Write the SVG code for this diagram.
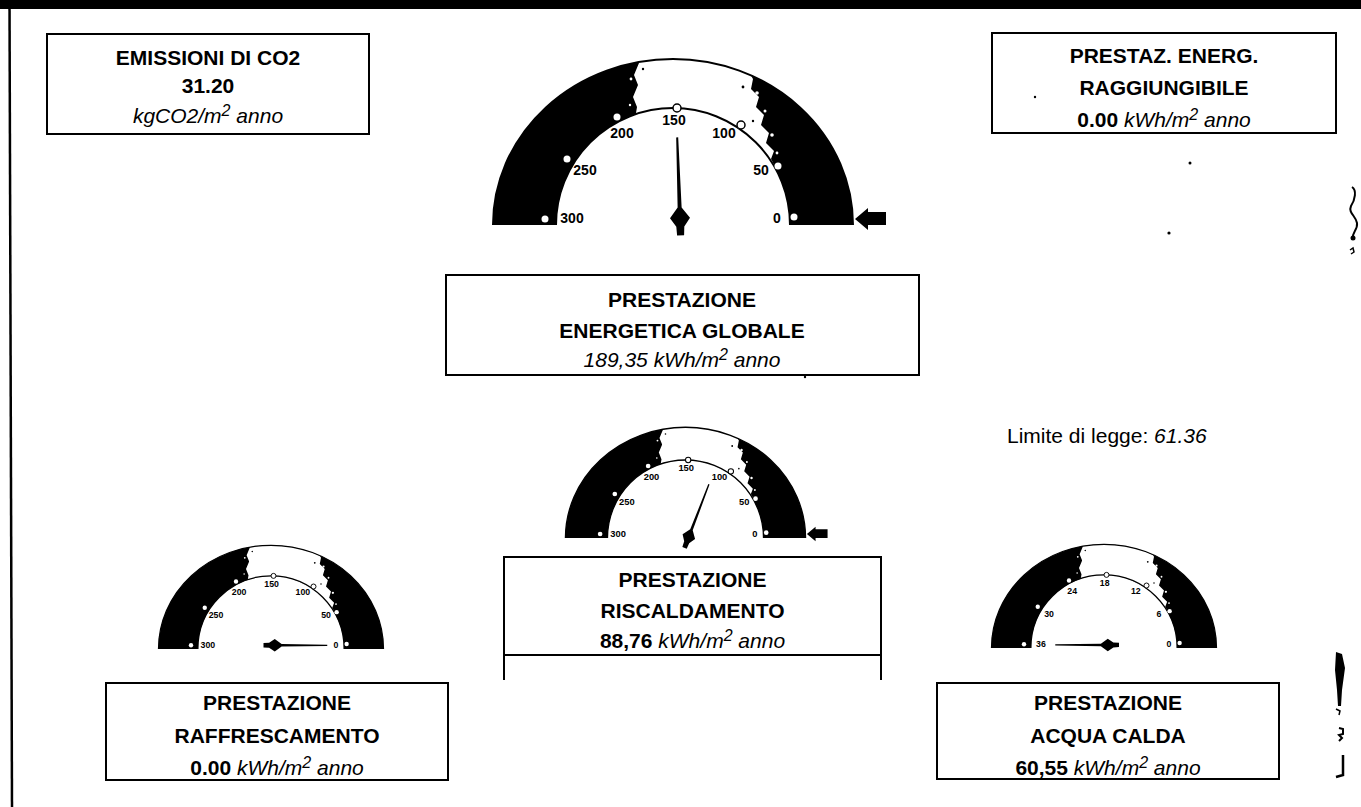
<svg xmlns="http://www.w3.org/2000/svg" width="1361" height="807" viewBox="0 0 1361 807">
<style>
.box{fill:none;stroke:#000;stroke-width:2}
.t{font-family:"Liberation Sans",Arial,sans-serif;font-size:21px;text-anchor:middle;fill:#000}
.b{font-weight:bold}
.i{font-style:italic}
.gl{font-family:"Liberation Sans",Arial,sans-serif;font-weight:bold;font-size:14px;text-anchor:middle;fill:#000}
.arc{fill:none;stroke:#000;stroke-width:2}
.wd{fill:#fff}
.od{fill:#fff;stroke:#000;stroke-width:1.5}
</style>
<defs>
  <clipPath id="ringClip"><path d="M-180,0 A180,166 0 0 1 180,0 L117,0 A117,117 0 0 0 -117,0 Z"/></clipPath>
  <g id="ring">
    <path d="M-180,0 A180,166 0 0 1 180,0 L117,0 A117,117 0 0 0 -117,0 Z" fill="#000"/>
    <polygon points="-36,-200 -38,-172 -34,-162 -39,-150 -35,-140 -40,-128 -36,-118 -38,-106 -34,-95 -36,-60 104,-55 98,-66 101,-74 93,-82 96,-92 88,-100 91,-110 83,-118 86,-128 78,-136 80,-146 72,-160 66,-200" fill="#fff" clip-path="url(#ringClip)"/>
    <path class="arc" d="M-180,0 A180,166 0 0 1 180,0"/>
    <path class="arc" d="M-117,0 A117,117 0 0 1 117,0"/>
    <g clip-path="url(#ringClip)">
      <circle class="wd" cx="84" cy="-132" r="1.8"/>
      <circle class="wd" cx="92" cy="-114" r="1.5"/>
      <circle class="wd" cx="99" cy="-90" r="1.8"/>
      <circle class="wd" cx="104" cy="-72" r="1.4"/>
      <circle cx="70" cy="-138" r="1.4"/>
      <circle cx="80" cy="-104" r="1.2"/>
      <circle class="wd" cx="-42" cy="-146" r="1.4"/>
      <circle class="wd" cx="-43" cy="-120" r="1.2"/>
      <circle cx="-30" cy="-156" r="1.2"/>
    </g>
    <circle class="wd" cx="-128" cy="-6" r="3.5"/>
    <circle class="wd" cx="-106" cy="-66" r="3.5"/>
    <circle class="wd" cx="-56" cy="-108" r="3.5"/>
    <circle class="od" cx="4" cy="-117" r="4"/>
    <circle class="od" cx="68" cy="-100" r="4"/>
    <circle class="wd" cx="105" cy="-59" r="3.5"/>
    <circle class="wd" cx="121" cy="-8" r="3.5"/>
  </g>
  <path id="needle" d="M-2,-11 L-1,-84 L1,-84 L2,-11 L10,0 L4,9 L3.5,18 L-3.5,18 L-4,9 L-10,0 Z"/>
  <polygon id="arrow" points="182,-6 195,-17 195,-13 213,-13 213,0 195,0 195,5"/>
</defs>

<rect width="1361" height="807" fill="#fff"/>
<g id="frame">
  <rect x="0" y="0" width="1361" height="9" fill="#000"/>
  <line x1="9.5" y1="0" x2="12" y2="807" stroke="#000" stroke-width="2.5"/>
</g>

<g id="box-emissioni">
  <rect class="box" x="47" y="34" width="322" height="100"/>
  <text class="t b" x="208" y="65">EMISSIONI DI CO2</text>
  <text class="t b" x="208" y="93">31.20</text>
  <text class="t i" x="208" y="123">kgCO2/m<tspan font-size="16" dy="-7">2</tspan><tspan dy="7"> anno</tspan></text>
</g>

<g id="box-raggiungibile">
  <rect class="box" x="992" y="33" width="344" height="100"/>
  <text class="t b" x="1164" y="63">PRESTAZ. ENERG.</text>
  <text class="t b" x="1164" y="95">RAGGIUNGIBILE</text>
  <text class="t" x="1164" y="127"><tspan class="b">0.00 </tspan><tspan class="i">kWh/m</tspan><tspan class="i" font-size="16" dy="-7">2</tspan><tspan class="i" dy="7"> anno</tspan></text>
</g>

<g id="gauge-globale" transform="translate(673,225)">
  <use href="#ring"/>
  <text class="gl" x="-101" y="-2">300</text>
  <text class="gl" x="-88" y="-50">250</text>
  <text class="gl" x="-51" y="-87">200</text>
  <text class="gl" x="1" y="-100">150</text>
  <text class="gl" x="51" y="-87">100</text>
  <text class="gl" x="88" y="-50">50</text>
  <text class="gl" x="104" y="-2">0</text>
  <use href="#needle" transform="translate(7,-7) rotate(-2) scale(1,0.96)"/>
  <use href="#arrow"/>
</g>

<g id="box-globale">
  <rect class="box" x="446" y="275" width="473" height="100"/>
  <text class="t b" x="682" y="307">PRESTAZIONE</text>
  <text class="t b" x="682" y="338">ENERGETICA GLOBALE</text>
  <text class="t i" x="682" y="367">189,35 kWh/m<tspan font-size="16" dy="-7">2</tspan><tspan dy="7"> anno</tspan></text>
</g>

<g id="limite">
  <text class="t" style="text-anchor:start" x="1007" y="443">Limite di legge: <tspan class="i">61.36</tspan></text>
</g>

<g id="gauge-riscaldamento" transform="translate(685.5,538) scale(0.667)">
  <use href="#ring"/>
  <text class="gl" x="-101" y="-2">300</text>
  <text class="gl" x="-88" y="-50">250</text>
  <text class="gl" x="-51" y="-87">200</text>
  <text class="gl" x="1" y="-100">150</text>
  <text class="gl" x="51" y="-87">100</text>
  <text class="gl" x="88" y="-50">50</text>
  <text class="gl" x="104" y="-2">0</text>
  <use href="#needle" transform="translate(5,-2) rotate(21)"/>
  <use href="#arrow"/>
</g>

<g id="box-riscaldamento">
  <path class="box" d="M504,680 V557 H881 V680 M504,655 H881"/>
  <text class="t b" x="692.5" y="587">PRESTAZIONE</text>
  <text class="t b" x="692.5" y="618">RISCALDAMENTO</text>
  <text class="t" x="692.5" y="648"><tspan class="b">88,76 </tspan><tspan class="i">kWh/m</tspan><tspan class="i" font-size="16" dy="-7">2</tspan><tspan class="i" dy="7"> anno</tspan></text>
</g>

<g id="gauge-raffrescamento" transform="translate(271,649) scale(0.625)">
  <use href="#ring"/>
  <text class="gl" x="-101" y="-2">300</text>
  <text class="gl" x="-88" y="-50">250</text>
  <text class="gl" x="-51" y="-87">200</text>
  <text class="gl" x="1" y="-100">150</text>
  <text class="gl" x="51" y="-87">100</text>
  <text class="gl" x="88" y="-50">50</text>
  <text class="gl" x="104" y="-2">0</text>
  <use href="#needle" transform="translate(6,-6) rotate(90)"/>
</g>

<g id="box-raffrescamento">
  <rect class="box" x="106" y="683" width="342" height="97"/>
  <text class="t b" x="277" y="710">PRESTAZIONE</text>
  <text class="t b" x="277" y="743">RAFFRESCAMENTO</text>
  <text class="t" x="277" y="775"><tspan class="b">0.00 </tspan><tspan class="i">kWh/m</tspan><tspan class="i" font-size="16" dy="-7">2</tspan><tspan class="i" dy="7"> anno</tspan></text>
</g>

<g id="gauge-acqua" transform="translate(1104,648) scale(0.625)">
  <use href="#ring"/>
  <text class="gl" x="-101" y="-2">36</text>
  <text class="gl" x="-88" y="-50">30</text>
  <text class="gl" x="-51" y="-87">24</text>
  <text class="gl" x="1" y="-100">18</text>
  <text class="gl" x="51" y="-87">12</text>
  <text class="gl" x="88" y="-50">6</text>
  <text class="gl" x="104" y="-2">0</text>
  <use href="#needle" transform="translate(6,-5) rotate(-90)"/>
</g>

<g id="box-acqua">
  <rect class="box" x="937" y="683" width="342" height="96"/>
  <text class="t b" x="1108" y="710">PRESTAZIONE</text>
  <text class="t b" x="1108" y="743">ACQUA CALDA</text>
  <text class="t" x="1108" y="775"><tspan class="b">60,55 </tspan><tspan class="i">kWh/m</tspan><tspan class="i" font-size="16" dy="-7">2</tspan><tspan class="i" dy="7"> anno</tspan></text>
</g>

<g id="marks">
  <circle cx="1035" cy="97" r="1.2"/>
  <circle cx="1190" cy="163" r="1.5"/>
  <circle cx="1169" cy="233" r="1.6"/>
  <circle cx="805" cy="377" r="1.2"/>
  <path d="M1352,187 C1357,190 1355,200 1351,206 C1348,213 1356,216 1357,223 C1358,230 1352,232 1353,238" fill="none" stroke="#000" stroke-width="2"/>
  <circle cx="1353" cy="238" r="2.5"/>
  <path d="M1350,250 l3,-2 l1,4 l-3,2" fill="none" stroke="#000" stroke-width="1.5"/>
  <path d="M1336,652 L1342,654 L1345,668 L1342,690 L1341,706 L1338,706 L1337,690 L1335,670 Z"/>
  <path d="M1336,709 l4,2 l-1,4" fill="none" stroke="#000" stroke-width="1.5"/>
  <path d="M1339,728 l4,1 l0,5 l-4,1 l3,3 l-3,3" fill="none" stroke="#000" stroke-width="2"/>
  <path d="M1343,755 L1343,775 L1336,777" fill="none" stroke="#000" stroke-width="2.5"/>
</g>
</svg>
